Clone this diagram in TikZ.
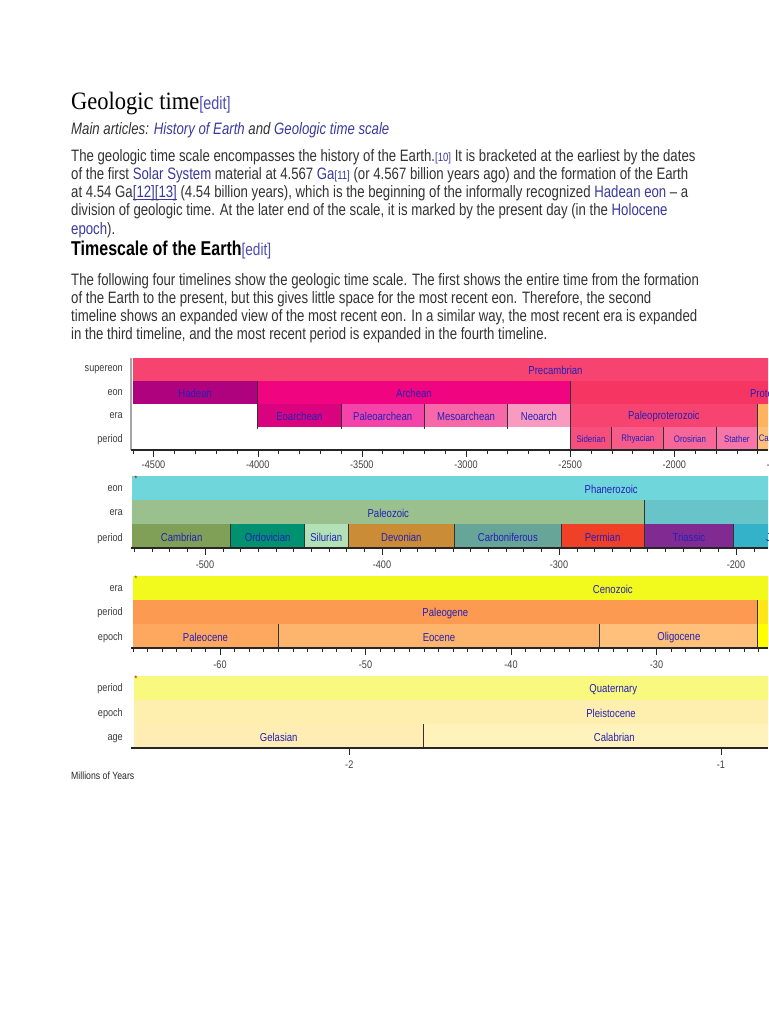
\documentclass[tikz,border=0pt]{standalone}
\usepackage{fontspec}
\setmainfont{Liberation Sans}
\newfontfamily\pagefont[FakeStretch=0.8]{Liberation Sans}
\newfontfamily\titlefont[FakeStretch=0.9]{Liberation Serif}
\newfontfamily\chartfont[FakeStretch=0.83]{Liberation Sans}
\usetikzlibrary{positioning}

\definecolor{bodygray}{HTML}{333333}
\definecolor{linkblue}{HTML}{3A3A9E}
\definecolor{editblue}{HTML}{4B4BB0}
\definecolor{barblue}{HTML}{2420B8}
\definecolor{rowgray}{HTML}{3C3C3C}
% bar colours, one per unit
\definecolor{Precambrian}{HTML}{F74370}
\definecolor{Hadean}{HTML}{AE027E}
\definecolor{Archean}{HTML}{F0047F}
\definecolor{Proterozoic}{HTML}{F73563}
\definecolor{Eoarchean}{HTML}{DA037F}
\definecolor{Paleoarchean}{HTML}{F444A9}
\definecolor{Mesoarchean}{HTML}{F768A9}
\definecolor{Neoarchean}{HTML}{F99BC1}
\definecolor{Paleoproterozoic}{HTML}{F74370}
\definecolor{Mesoproterozoic}{HTML}{FDB462}
\definecolor{Siderian}{HTML}{F74F7C}
\definecolor{Rhyacian}{HTML}{F75B89}
\definecolor{Orosirian}{HTML}{F76898}
\definecolor{Statherian}{HTML}{F875A7}
\definecolor{Calymmian}{HTML}{FDC07A}
\definecolor{Phanerozoic}{HTML}{6FD6DB}
\definecolor{Paleozoic}{HTML}{99C08D}
\definecolor{Mesozoic}{HTML}{67C5CA}
\definecolor{Cambrian}{HTML}{7FA056}
\definecolor{Ordovician}{HTML}{009270}
\definecolor{Silurian}{HTML}{B3E1B6}
\definecolor{Devonian}{HTML}{CB8C37}
\definecolor{Carboniferous}{HTML}{67A599}
\definecolor{Permian}{HTML}{F04028}
\definecolor{Triassic}{HTML}{812B92}
\definecolor{Jurassic}{HTML}{34B2C9}
\definecolor{Cenozoic}{HTML}{F2F91D}
\definecolor{Paleogene}{HTML}{FD9A52}
\definecolor{Neogene}{HTML}{FFE619}
\definecolor{Paleocene}{HTML}{FDA75F}
\definecolor{Eocene}{HTML}{FDB46C}
\definecolor{Oligocene}{HTML}{FEC07A}
\definecolor{Miocene}{HTML}{FFFF00}
\definecolor{Quaternary}{HTML}{F9F97F}
\definecolor{Pleistocene}{HTML}{FFEFAF}
\definecolor{Gelasian}{HTML}{FFEDB3}
\definecolor{Calabrian}{HTML}{FFF2BA}

\newcommand\lnk[1]{\textcolor{linkblue}{#1}}
\newcommand\refno[1]{{\fontsize{12}{12}\selectfont\textcolor{linkblue}{[#1]}}}
\newcommand\ulref[1]{\setbox0\hbox{#1}\rlap{\rule[-1.4pt]{\wd0}{.6pt}}\box0}

\tikzset{
    textline/.style={anchor=base west, inner sep=0pt, text=bodygray,
        font=\pagefont\fontsize{16.5}{18}\selectfont},
    rowname/.style={anchor=east, inner sep=0pt, text=rowgray,
        font=\chartfont\fontsize{11}{12}\selectfont},
    barname/.style={inner sep=0pt, text=barblue,
        font=\chartfont\fontsize{11.5}{12}\selectfont},
    barsmall/.style={barname, font=\chartfont\fontsize{9.5}{10}\selectfont},
    ticklabel/.style={inner sep=0pt, text=black!75,
        font=\chartfont\fontsize{11}{12}\selectfont},
    divider/.style={draw=black!80, line width=.9pt},
    axisline/.style={draw=black!85, line width=1.3pt},
    starmark/.style={inner sep=0pt, font=\fontsize{8}{8}\selectfont},
}

\begin{document}
\begin{tikzpicture}[x=1pt, y=-1pt]
    \useasboundingbox (0,0) rectangle (768,1024);
    \clip (0,0) rectangle (768,1024);
    \fill[white] (0,0) rectangle (768,1024);

    % page text
    \node[anchor=base west, inner sep=0pt, text=black, font=\titlefont\fontsize{25}{28}\selectfont] (title1) at (71,110)
        {Geologic time{\pagefont\fontsize{18}{18}\selectfont\textcolor{editblue}{[edit]}}};
    \node[textline, font=\pagefont\itshape\fontsize{16.5}{18}\selectfont] (mainart) at (71,135)
        {Main articles: \lnk{History of Earth} and \lnk{Geologic time scale}};
    \node[textline] (p1-l1) at (71,162) {The geologic time scale encompasses the history of the Earth.\refno{10} It is bracketed at the earliest by the dates};
    \node[textline] (p1-l2) at (71,180) {of the first \lnk{Solar System} material at 4.567 \lnk{Ga}\refno{11} (or 4.567 billion years ago) and the formation of the Earth};
    \node[textline] (p1-l3) at (71,198) {at 4.54 Ga\textcolor{linkblue}{\ulref{[12]}\ulref{[13]}} (4.54 billion years), which is the beginning of the informally recognized \lnk{Hadean eon} – a};
    \node[textline] (p1-l4) at (71,216) {division of geologic time. At the later end of the scale, it is marked by the present day (in the \lnk{Holocene}};
    \node[textline] (p1-l5) at (71,234) {\lnk{epoch}).};
    \node[anchor=base west, inner sep=0pt, text=black, font=\pagefont\bfseries\fontsize{20}{22}\selectfont] (title2) at (71,255)
        {Timescale of the Earth{\mdseries\fontsize{17}{17}\selectfont\textcolor{editblue}{[edit]}}};
    \node[textline] (p2-l1) at (71,285) {The following four timelines show the geologic time scale. The first shows the entire time from the formation};
    \node[textline] (p2-l2) at (71,303) {of the Earth to the present, but this gives little space for the most recent eon. Therefore, the second};
    \node[textline] (p2-l3) at (71,321) {timeline shows an expanded view of the most recent eon. In a similar way, the most recent era is expanded};
    \node[textline] (p2-l4) at (71,339) {in the third timeline, and the most recent period is expanded in the fourth timeline.};

    % timeline 1: whole history
    \foreach \a/\b/\n/\l/\y in {-4600/-541/Precambrian/Precambrian/358,
        -4600/-4000/Hadean/Hadean/381, -4000/-2500/Archean/Archean/381, -2500/-541/Proterozoic/Proterozoic/381,
        -4000/-3600/Eoarchean/Eoarchean/404, -3600/-3200/Paleoarchean/Paleoarchean/404,
        -3200/-2800/Mesoarchean/Mesoarchean/404, -2800/-2500/Neoarchean/Neoarch/404,
        -2500/-1600/Paleoproterozoic/Paleoproterozoic/404, -1600/-1000/Mesoproterozoic/Mesoproterozoic/404}{
        \fill[\n] ({257.7+(\a+4000)*0.2083},\y) rectangle ({257.7+(\b+4000)*0.2083},{\y+23});
        \node[barname] (t1-\n) at ({257.7+(\a+\b+8000)*0.10415},{\y+12.5}) {\l};
    }
    \foreach \a/\b/\n/\l in {-2500/-2300/Siderian/Siderian, -2300/-2050/Rhyacian/Rhyacian,
        -2050/-1800/Orosirian/Orosirian, -1800/-1600/Statherian/Stather, -1600/-1400/Calymmian/Calymmian}{
        \fill[\n] ({257.7+(\a+4000)*0.2083},427) rectangle ({257.7+(\b+4000)*0.2083},450);
        \node[barsmall] (t1-\n) at ({257.7+(\a+\b+8000)*0.10415},439.5) {\l};
    }
    \foreach \a/\y/\z in {-4000/381/429, -3600/404/429, -3200/404/429, -2800/404/429,
        -2500/381/450, -2300/427/450, -2050/427/450, -1800/427/450, -1600/404/450}
        \draw[divider] ({257.7+(\a+4000)*0.2083},\y) -- ({257.7+(\a+4000)*0.2083},\z);
    \draw[black!35, line width=1.2pt] (131,358) -- (131,450);
    \draw[axisline] (131,450) -- (768,450);
    \foreach \t in {-4600,-4500,...,-1500}
        \draw[black!85] ({257.7+(\t+4000)*0.2083},450) -- ++(0,3.5);
    \foreach \t in {-4500,-4000,...,-1500}{
        \draw[black!85] ({257.7+(\t+4000)*0.2083},450) -- ++(0,7);
        \node[ticklabel] (t1-tick\t) at ({257.7+(\t+4000)*0.2083},465) {\t};
    }
    \foreach \y/\n in {370/supereon, 393/eon, 416/era, 440/period}
        \node[rowname] (t1-row-\n) at (123,\y) {\n};

    % timeline 2: Phanerozoic
    \foreach \a/\b/\n/\y in {-541/0/Phanerozoic/476,
        -541/-251.9/Paleozoic/500, -251.9/-66/Mesozoic/500,
        -541/-485.4/Cambrian/524, -485.4/-443.8/Ordovician/524, -443.8/-419.2/Silurian/524,
        -419.2/-358.9/Devonian/524, -358.9/-298.9/Carboniferous/524, -298.9/-251.9/Permian/524,
        -251.9/-201.3/Triassic/524, -201.3/-145/Jurassic/524}{
        \fill[\n] ({205+(\a+500)*1.77},\y) rectangle ({205+(\b+500)*1.77},{\y+24});
        \node[barname] (t2-\n) at ({205+(\a+\b+1000)*0.885},{\y+13.5}) {\n};
    }
    \foreach \a/\y in {-485.4/524, -443.8/524, -419.2/524, -358.9/524, -298.9/524, -251.9/500, -201.3/524}
        \draw[divider] ({205+(\a+500)*1.77},\y) -- ({205+(\a+500)*1.77},548);
    \draw[axisline] (131,548) -- (768,548);
    \foreach \t in {-540,-530,...,-150}
        \draw[black!85] ({205+(\t+500)*1.77},548) -- ++(0,3.5);
    \foreach \t in {-500,-400,...,-200}{
        \draw[black!85] ({205+(\t+500)*1.77},548) -- ++(0,7);
        \node[ticklabel] (t2-tick\t) at ({205+(\t+500)*1.77},565) {\t};
    }
    \foreach \y/\n in {489/eon, 513/era, 539/period}
        \node[rowname] (t2-row-\n) at (123,\y) {\n};
    \node[starmark, text=red!80!black] (t2-star) at (136,479) {*};

    % timeline 3: Cenozoic
    \foreach \a/\b/\n/\y in {-66/0/Cenozoic/576,
        -66/-23.03/Paleogene/600, -23.03/-2.58/Neogene/600,
        -66/-56/Paleocene/624, -56/-33.9/Eocene/624, -33.9/-23.03/Oligocene/624, -23.03/-5.33/Miocene/624}{
        \fill[\n] ({220+(\a+60)*14.55},\y) rectangle ({220+(\b+60)*14.55},{\y+24});
        \node[barname] (t3-\n) at ({220+(\a+\b+120)*7.275},{\y+13.5}) {\n};
    }
    \foreach \a/\y in {-56/624, -33.9/624, -23.03/600}
        \draw[divider] ({220+(\a+60)*14.55},\y) -- ({220+(\a+60)*14.55},648);
    \draw[axisline] (131,648) -- (768,648);
    \foreach \t in {-66,-65,...,-20}
        \draw[black!85] ({220+(\t+60)*14.55},648) -- ++(0,3.5);
    \foreach \t in {-60,-50,...,-30}{
        \draw[black!85] ({220+(\t+60)*14.55},648) -- ++(0,7);
        \node[ticklabel] (t3-tick\t) at ({220+(\t+60)*14.55},665) {\t};
    }
    \foreach \y/\n in {589/era, 613/period, 638/epoch}
        \node[rowname] (t3-row-\n) at (123,\y) {\n};
    \node[starmark, text=olive!60!black] (t3-star) at (136,579) {*};

    % timeline 4: Quaternary
    \foreach \a/\b/\n/\y in {-2.58/0/Quaternary/676,
        -2.58/-0.0117/Pleistocene/700,
        -2.58/-1.8/Gelasian/724, -1.8/-0.774/Calabrian/724}{
        \fill[\n] ({349.3+(\a+2)*371.7},\y) rectangle ({349.3+(\b+2)*371.7},{\y+24});
        \node[barname] (t4-\n) at ({349.3+(\a+\b+4)*185.85},{\y+13.5}) {\n};
    }
    \draw[divider] ({349.3+(-1.8+2)*371.7},724) -- ({349.3+(-1.8+2)*371.7},748);
    \draw[axisline] (131,748) -- (768,748);
    \foreach \t in {-2,-1}{
        \draw[black!85] ({349.3+(\t+2)*371.7},748) -- ++(0,7);
        \node[ticklabel] (t4-tick\t) at ({349.3+(\t+2)*371.7},765) {\t};
    }
    \foreach \y/\n in {689/period, 714/epoch, 739/age}
        \node[rowname] (t4-row-\n) at (123,\y) {\n};
    \node[starmark, text=red!80!black] (t4-star) at (136,679) {*};

    \node[anchor=west, inner sep=0pt, text=black!85, font=\chartfont\fontsize{10.5}{11}\selectfont] (units) at (71,776) {Millions of Years};
\end{tikzpicture}
\end{document}
